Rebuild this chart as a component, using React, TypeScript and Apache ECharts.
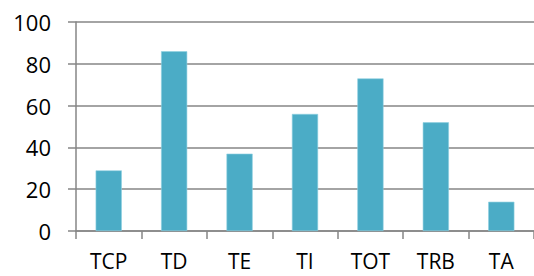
import React, { useEffect, useRef } from "react";
import * as echarts from "echarts";

const categories = ["TCP", "TD", "TE", "TI", "TOT", "TRB", "TA"];
const values = [29, 86, 37, 56, 73, 52, 14];

export default function App() {
  const ref = useRef<HTMLDivElement>(null);
  useEffect(() => {
    if (!ref.current) return;
    const chart = echarts.init(ref.current, null, { renderer: "svg" });
    const font = "'Open Sans', 'Liberation Sans', sans-serif";
    chart.setOption({
      animation: false,
      grid: { left: 76, right: -9, top: 22, bottom: 45, containLabel: false },
      xAxis: {
        type: "category",
        data: categories,
        axisLine: { lineStyle: { color: "#868686", width: 1.5 } },
        axisTick: { show: true, length: 8, lineStyle: { color: "#868686", width: 1.5 } },
        axisLabel: { color: "#000", fontSize: 21, lineHeight: 20, fontFamily: font, margin: 20 },
      },
      yAxis: {
        type: "value",
        min: 0,
        max: 100,
        interval: 20,
        axisLine: { show: true, lineStyle: { color: "#868686", width: 1.5 } },
        axisTick: { show: true, length: 8, lineStyle: { color: "#868686", width: 1.5 } },
        axisLabel: { color: "#000", fontSize: 22, fontFamily: font, margin: 25 },
        splitLine: { show: true, lineStyle: { color: "#868686", width: 1.5 } },
      },
      series: [
        {
          type: "bar",
          data: values,
          barWidth: "40%",
          itemStyle: { color: "#4BACC6", borderColor: "#8fd0e0", borderWidth: 0.6 },
        },
      ],
    });
    return () => chart.dispose();
  }, []);
  return (
    <div
      ref={ref}
      style={{ position: "fixed", left: 0, top: 0, width: 534, height: 276, background: "#fff" }}
    />
  );
}
